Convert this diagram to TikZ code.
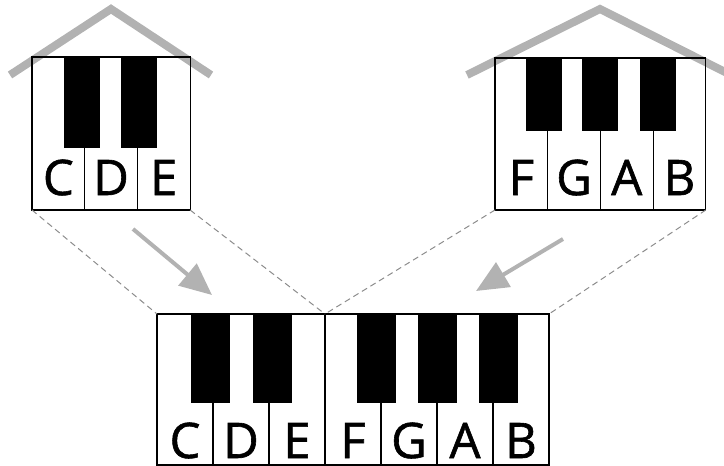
\documentclass[tikz,border=0pt]{standalone}
\usepackage{fontspec}
\newfontfamily\keyfont{Open Sans}[FakeBold=1.2]
\usetikzlibrary{arrows.meta,positioning}
\tikzset{
  >=Stealth,
  wkey/.style={draw,line width=1.2pt,minimum width=52.7pt,minimum height=153pt,inner sep=0pt,outer sep=0pt},
  wkeyl/.style={wkey,minimum width=56pt,minimum height=151pt},
  bkey/.style={fill=black,minimum width=36pt,minimum height=91pt,inner sep=0pt,outer sep=0pt,anchor=north},
  bkeys/.style={bkey,minimum height=73pt},
  bkeyl/.style={bkey,minimum width=39pt,minimum height=89pt},
  note/.style={font=\keyfont\fontsize{49}{49}\selectfont,anchor=base,inner sep=0pt},
  roof/.style={draw=black!30,line width=8pt},
  guide/.style={draw=black!45,line width=1pt,dash pattern=on 6pt off 4pt},
  move/.style={draw=black!30,line width=4pt,-{Triangle[length=32pt,width=28pt]}}
}
\begin{document}
\begin{tikzpicture}[x=1pt,y=-1pt,node distance=0pt]
\useasboundingbox (0,0) rectangle (724,466);
\clip (0,0) rectangle (724,466);
\draw[roof] (10,75)--(111,9)--(211,75);
\draw[roof] (467,75)--(600,9)--(735,77);
\node[wkey,anchor=north west](c1) at (32,57){};\node[wkey,right=of c1](d1){};\node[wkey,right=of d1](e1){};
\node[bkey,xshift=-2.5pt](cs1) at (c1.north east){};
\node[bkey,xshift=2pt](ds1) at (d1.north east){};
\node[note,yshift=15pt](lc1) at (c1.south){C};
\node[note,yshift=15pt](ld1) at (d1.south){D};
\node[note,yshift=15pt](le1) at (e1.south){E};
\node[wkey,anchor=north west,minimum height=152pt](f1) at (495,58){};\node[wkey,right=of f1,minimum height=152pt](g1){};
\node[wkey,right=of g1,minimum height=152pt](a1){};\node[wkey,right=of a1,minimum height=152pt](b1){};
\node[bkeys,xshift=-4pt](fs1) at (f1.north east){};
\node[bkeys](gs1) at (g1.north east){};
\node[bkeys,xshift=5pt](as1) at (a1.north east){};
\node[note,yshift=15pt](lf1) at (f1.south){F};
\node[note,yshift=15pt](lg1) at (g1.south){G};
\node[note,yshift=15pt](la1) at (a1.south){A};
\node[note,yshift=15pt](lb1) at (b1.south){B};
\node[wkeyl,anchor=north west](c2) at (157,314){};\node[wkeyl,right=of c2](d2){};\node[wkeyl,right=of d2](e2){};
\node[wkeyl,right=of e2](f2){};\node[wkeyl,right=of f2](g2){};\node[wkeyl,right=of g2](a2){};\node[wkeyl,right=of a2](b2){};
\node[bkeyl,xshift=-3pt](cs2) at (c2.north east){};
\node[bkeyl,xshift=3pt](ds2) at (d2.north east){};
\node[bkeyl,xshift=-5pt](fs2) at (f2.north east){};
\node[bkeyl](gs2) at (g2.north east){};
\node[bkeyl,xshift=5pt](as2) at (a2.north east){};
\node[note,yshift=7pt](lc2) at (c2.south){C};
\node[note,yshift=7pt](ld2) at (d2.south){D};
\node[note,yshift=7pt](le2) at (e2.south){E};
\node[note,yshift=7pt](lf2) at (f2.south){F};
\node[note,yshift=7pt](lg2) at (g2.south){G};
\node[note,yshift=7pt](la2) at (a2.south){A};
\node[note,yshift=7pt](lb2) at (b2.south){B};
\draw[guide](c1.south west)--(c2.north west);
\draw[guide](e1.south east)--(e2.north east);
\draw[guide](f1.south west)--(f2.north west);
\draw[guide](b1.south east)--(b2.north east);
\coordinate(m1) at (133,229);\coordinate(m2) at (212,295);
\coordinate(n1) at (563,239);\coordinate(n2) at (476,291);
\draw[move](m1)--(m2);
\draw[move](n1)--(n2);
\end{tikzpicture}
\end{document}
